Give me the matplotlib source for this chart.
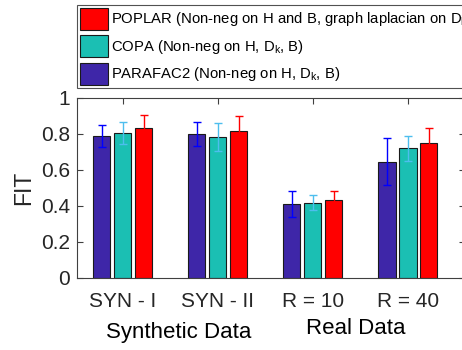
import numpy as np
import matplotlib
matplotlib.use("Agg")
import matplotlib.pyplot as plt
from matplotlib.patches import Patch

# --- Data ---
groups = ["SYN - I", "SYN - II", "R = 10", "R = 40"]
parafac2 = [0.789, 0.800, 0.408, 0.645]
parafac2_err = [0.061, 0.067, 0.071, 0.130]
copa = [0.802, 0.782, 0.417, 0.719]
copa_err = [0.061, 0.080, 0.041, 0.070]
poplar = [0.830, 0.817, 0.432, 0.750]
poplar_err = [0.072, 0.081, 0.051, 0.080]

series_labels = [
    "PARAFAC2 (Non-neg on H, D$_k$, B)",
    "COPA (Non-neg on H, D$_k$, B)",
    "POPLAR (Non-neg on H and B, graph laplacian on D$_k$)",
]
group_labels = ["Synthetic Data", "Real Data"]

# --- Style ---
plt.rcParams['font.family'] = ['Liberation Sans', 'DejaVu Sans']
plt.rcParams['mathtext.fontset'] = 'custom'
plt.rcParams['mathtext.rm'] = 'Liberation Sans'
plt.rcParams['mathtext.it'] = 'Liberation Sans'

bar_colors = ['#3e26a8', '#1bbfb3', '#ff0000']
err_colors = ['#0000ff', '#4dbeee', '#ff0000']
axis_col = '#404040'
text_col = '#262626'

fig = plt.figure(figsize=(4.62, 3.5), dpi=100)
ax = fig.add_axes([77 / 462, 72.3 / 350, (465 - 77) / 462, 180 / 350])

x = np.arange(1, len(groups) + 1)
offset = 0.221
width = 0.179
series = [(parafac2, parafac2_err), (copa, copa_err), (poplar, poplar_err)]
for i, (vals, errs) in enumerate(series):
    pos = x + (i - 1) * offset
    ax.bar(pos, vals, width, color=bar_colors[i], edgecolor='#1a1a1a',
           linewidth=0.8, zorder=2)
    ax.errorbar(pos, vals, yerr=errs, fmt='none', ecolor=err_colors[i],
                elinewidth=1.0, capsize=3.2, capthick=1.0, zorder=3)

ax.set_xlim(0.516, 4.6)
ax.set_ylim(0, 1)
ax.set_xticks(x)
ax.set_xticklabels(groups)
ax.set_yticks([0, 0.2, 0.4, 0.6, 0.8, 1])
ax.set_yticklabels(["0", "0.2", "0.4", "0.6", "0.8", "1"])
ax.tick_params(axis='both', direction='in', length=4, width=0.8,
               colors=axis_col, labelcolor=text_col, labelsize=15,
               top=True, right=True)
ax.tick_params(axis='x', pad=10)
ax.tick_params(axis='y', pad=5)
for sp in ax.spines.values():
    sp.set_color(axis_col)
    sp.set_linewidth(0.8)

ax.set_ylabel("FIT", fontsize=16.5, color=text_col, labelpad=4)

# group labels under the ticks
ax.text(1.59, -0.335, group_labels[0], fontsize=16, color='black',
        ha='center', va='baseline', transform=ax.transData, clip_on=False)
ax.text(3.45, -0.313, group_labels[1], fontsize=16, color='black',
        ha='center', va='baseline', transform=ax.transData, clip_on=False)

# legend above the axes, in reverse order like the original
handles = [Patch(facecolor=bar_colors[i], edgecolor='#1a1a1a', linewidth=0.8)
           for i in range(3)]
leg = fig.legend(handles[::-1], series_labels[::-1],
                 loc='upper left', bbox_to_anchor=(77 / 462, 1 - 4.7 / 350),
                 fontsize=10.7, frameon=True, fancybox=False,
                 edgecolor=text_col, handlelength=1.88, handleheight=1.9,
                 labelspacing=0.37, handletextpad=0.18, borderpad=0.2,
                 borderaxespad=0)
leg.get_frame().set_linewidth(0.8)

fig.savefig("out.png", dpi=100)
